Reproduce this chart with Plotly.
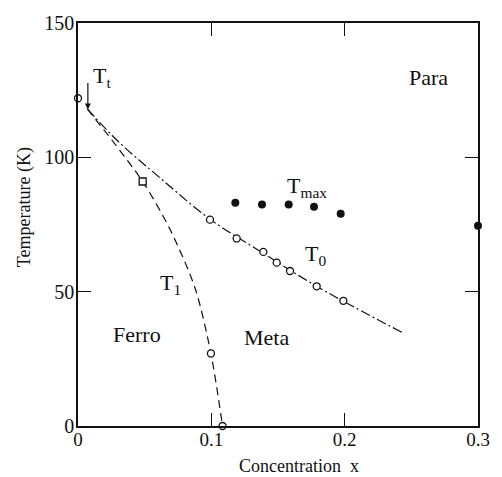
import plotly.graph_objects as go

# ---- data ----
# T0 line (dash-dot) through the open circles
t0_line_x = [0.007, 0.03, 0.06, 0.099, 0.14, 0.18, 0.2435]
t0_line_T = [118, 106, 93, 77, 64, 51.7, 34.7]
# T1 line (dashed)
t1_line_x = [0.007, 0.0485, 0.0698, 0.088, 0.0997, 0.1084]
t1_line_T = [118, 91, 72.4, 51, 27, 0]

# open circles on T0
t0_x = [0.0, 0.099, 0.119, 0.139, 0.149, 0.159, 0.179, 0.199]
t0_T = [122, 76.8, 69.8, 64.8, 60.8, 57.7, 52.0, 46.6]
# open circles on T1
t1_x = [0.0997, 0.1084]
t1_T = [27, 0]
# open square
sq_x = [0.0485]
sq_T = [91]
# filled circles (Tmax)
tmax_x = [0.118, 0.138, 0.158, 0.177, 0.197, 0.3]
tmax_T = [83.1, 82.4, 82.4, 81.6, 79.0, 74.5]

x_ticks = [0, 0.1, 0.2, 0.3]
x_ticklabels = ["0", "0.1", "0.2", "0.3"]
y_ticks = [0, 50, 100, 150]
y_ticklabels = ["0", "50", "100", "150"]

FONT = "'Liberation Serif', 'Times New Roman', Times, serif"
BLACK = "#111111"

fig = go.Figure()

fig.add_trace(go.Scatter(x=t0_line_x, y=t0_line_T, mode="lines",
                         line=dict(color=BLACK, width=1.2, dash="10px,3px,2px,3px",
                                   shape="spline", smoothing=1.0),
                         hoverinfo="skip"))
fig.add_trace(go.Scatter(x=t1_line_x, y=t1_line_T, mode="lines",
                         line=dict(color=BLACK, width=1.2, dash="8px,5px",
                                   shape="spline", smoothing=0.8),
                         hoverinfo="skip"))

open_marker = dict(symbol="circle", size=7, color="white",
                   line=dict(color=BLACK, width=1.3))
fig.add_trace(go.Scatter(x=t0_x, y=t0_T, mode="markers", marker=open_marker,
                         cliponaxis=False))
fig.add_trace(go.Scatter(x=t1_x, y=t1_T, mode="markers", marker=open_marker,
                         cliponaxis=False))
fig.add_trace(go.Scatter(x=sq_x, y=sq_T, mode="markers",
                         marker=dict(symbol="square", size=7, color="white",
                                     line=dict(color=BLACK, width=1.3)),
                         cliponaxis=False))
fig.add_trace(go.Scatter(x=tmax_x, y=tmax_T, mode="markers",
                         marker=dict(symbol="circle", size=8, color=BLACK),
                         cliponaxis=False))

ann_font = dict(family=FONT, size=22, color=BLACK)
annotations = [
    dict(x=0.0097, y=130, text="T<sub>t</sub>", xanchor="left", yanchor="middle"),
    dict(x=0.155, y=89, text="T<sub>max</sub>", xanchor="left", yanchor="middle"),
    dict(x=0.169, y=63.5, text="T<sub>0</sub>", xanchor="left", yanchor="middle"),
    dict(x=0.060, y=53, text="T<sub>1</sub>", xanchor="left", yanchor="middle"),
    dict(x=0.0445, y=34, text="Ferro", xanchor="center", yanchor="middle"),
    dict(x=0.141, y=33, text="Meta", xanchor="center", yanchor="middle"),
    dict(x=0.263, y=129.7, text="Para", xanchor="center", yanchor="middle"),
]
for a in annotations:
    a.update(xref="x", yref="y", showarrow=False, font=ann_font)

# arrow for Tt
annotations.append(dict(x=0.0074, y=117.8, xref="x", yref="y", text="",
                        showarrow=True, ax=0, ay=-28, arrowhead=2, arrowsize=1,
                        arrowwidth=1.2, arrowcolor=BLACK))
# axis titles (pixel centres, converted to paper coordinates below)
annotations.append(dict(x=24, y=206, xref="paper", yref="paper", text="Temperature (K)",
                        showarrow=False, textangle=-90, xanchor="center", yanchor="middle",
                        font=dict(family=FONT, size=18, color=BLACK)))
annotations.append(dict(x=301, y=466, xref="paper", yref="paper",
                        text="Concentration&nbsp; x", showarrow=False,
                        xanchor="center", yanchor="middle",
                        font=dict(family=FONT, size=18, color=BLACK)))

L, R, T, B = 78, 20, 20, 51
W, H = 502, 477
pw, ph = W - L - R, H - T - B
for a in annotations[-2:]:
    a["x"] = (a["x"] - L) / pw
    a["y"] = (H - B - a["y"]) / ph

fig.update_layout(
    width=W, height=H,
    margin=dict(l=L, r=R, t=T, b=B),
    paper_bgcolor="white", plot_bgcolor="white",
    showlegend=False,
    annotations=annotations,
    font=dict(family=FONT, color=BLACK),
)
fig.update_xaxes(range=[0, 0.3], tickvals=x_ticks, ticktext=x_ticklabels,
                 ticks="inside", ticklen=13, tickwidth=1.3, tickcolor=BLACK,
                 showline=True, linecolor=BLACK, linewidth=1.5, mirror="ticks",
                 showgrid=False, zeroline=False, ticklabelstandoff=-5,
                 tickfont=dict(family=FONT, size=19, color=BLACK))
fig.update_yaxes(range=[0, 150], tickvals=y_ticks, ticktext=y_ticklabels,
                 ticks="inside", ticklen=13, tickwidth=1.3, tickcolor=BLACK,
                 showline=True, linecolor=BLACK, linewidth=1.5, mirror="ticks",
                 showgrid=False, zeroline=False, ticklabelstandoff=-2,
                 tickfont=dict(family=FONT, size=20, color=BLACK))

fig.write_html("out.html")
